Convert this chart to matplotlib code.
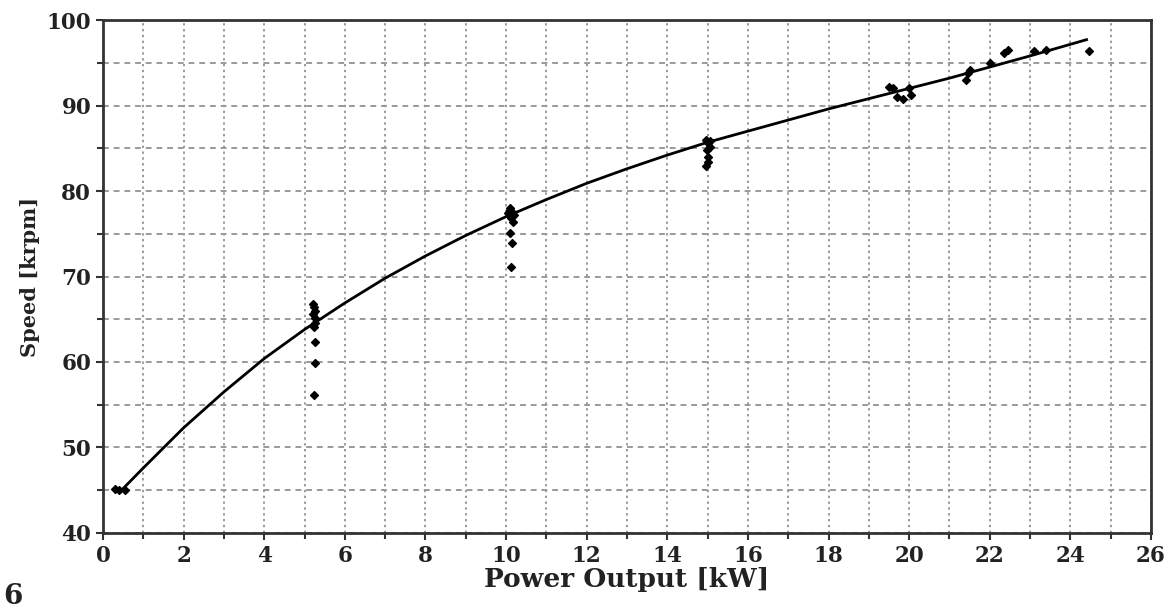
import matplotlib.pyplot as plt
from matplotlib.ticker import MultipleLocator

# fitted curve
curve_x = [0.5, 1, 2, 3, 4, 5, 6, 7, 8, 9, 10, 11, 12, 13, 14, 15, 16, 17, 18,
           19, 20, 21, 22, 23, 24.4]
curve_y = [45.2, 47.6, 52.3, 56.5, 60.4, 63.8, 66.9, 69.8, 72.4, 74.8, 77.0,
           79.0, 80.9, 82.6, 84.2, 85.7, 87.0, 88.3, 89.6, 90.8, 92.0, 93.2,
           94.5, 95.8, 97.7]

# measured points
meas_x = [0.3, 0.4, 0.55,
          5.22, 5.24, 5.26, 5.22, 5.25, 5.27, 5.24, 5.25, 5.26, 5.24,
          10.1, 10.15, 10.2, 10.12, 10.18, 10.1, 10.15, 10.12, 10.1, 10.05,
          14.95, 15.0, 15.05, 14.98, 15.02, 15.0, 14.95, 15.05,
          19.5, 19.6, 19.7, 19.85, 20.05, 20.0,
          21.4, 21.45, 21.5, 22.0, 22.35, 22.45, 23.1, 23.4, 24.45]
meas_y = [45.1, 45.0, 45.0,
          66.8, 66.4, 66.0, 65.6, 65.2, 64.6, 64.1, 62.3, 59.9, 56.1,
          78.0, 77.6, 77.2, 76.8, 76.4, 75.1, 73.9, 71.1, 77.8, 77.4,
          86.0, 85.6, 85.2, 84.8, 84.0, 83.4, 82.9, 85.9,
          92.2, 92.0, 91.0, 90.8, 91.2, 92.0,
          93.0, 93.8, 94.1, 95.0, 96.2, 96.5, 96.4, 96.5, 96.4]

font = "DejaVu Serif"

fig = plt.figure(figsize=(11.74, 6.12), dpi=100)
ax = fig.add_axes([0.0877, 0.1291, 0.8927, 0.8382])

ax.plot(curve_x, curve_y, color="black", lw=2, zorder=3)
ax.scatter(meas_x, meas_y, marker="D", s=16, color="black", zorder=4)

ax.set_xlim(0, 26)
ax.set_ylim(40, 100)
ax.xaxis.set_major_locator(MultipleLocator(2))
ax.xaxis.set_minor_locator(MultipleLocator(1))
ax.yaxis.set_major_locator(MultipleLocator(10))
ax.yaxis.set_minor_locator(MultipleLocator(5))

ax.xaxis.grid(True, which="both", ls=(0, (1.2, 1.8)), color="#9a9a9a", lw=1.4)
ax.yaxis.grid(True, which="both", ls=(0, (3, 2.5)), color="#9a9a9a", lw=1.4)
ax.set_axisbelow(True)

for s in ax.spines.values():
    s.set_linewidth(2)
    s.set_color("#333333")

ax.tick_params(which="both", direction="out", length=5, width=1.5, color="#333333")
ax.tick_params(which="minor", length=4)
for lab in ax.get_xticklabels() + ax.get_yticklabels():
    lab.set_fontfamily(font)
    lab.set_fontweight("bold")
    lab.set_fontsize(15.5)
    lab.set_color("#222222")

ax.set_xlabel("Power Output [kW]", fontfamily=font, fontweight="bold",
              fontsize=19, color="#222222", labelpad=0)
ax.set_ylabel("Speed [krpm]", fontfamily=font, fontweight="bold",
              fontsize=15, color="#222222", labelpad=5)

fig.text(0.003, 0.003, "6", fontfamily=font, fontweight="bold", fontsize=20,
         va="bottom", ha="left", color="#222222")

fig.savefig("out.png", dpi=100)
